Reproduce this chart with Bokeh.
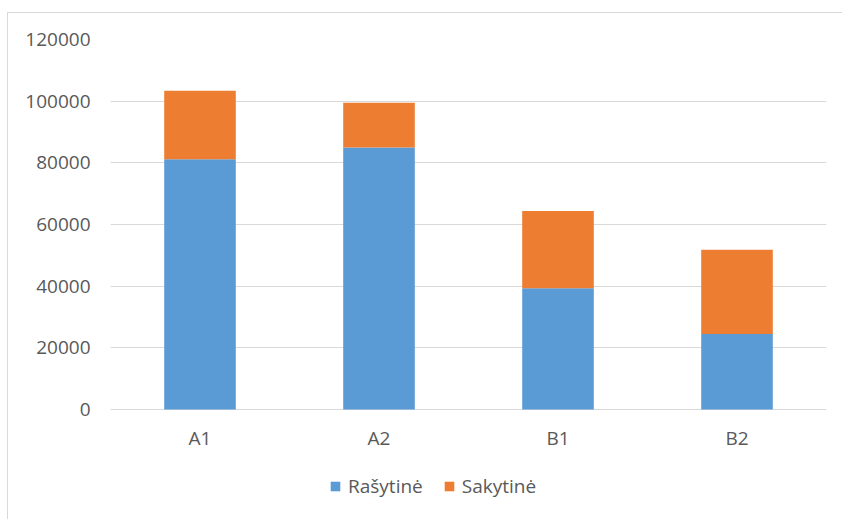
from bokeh.plotting import figure
from bokeh.models import ColumnDataSource, Range1d, FactorRange, Legend, LegendItem, NumeralTickFormatter
from bokeh.core.properties import value
from bokeh.embed import file_html
from bokeh.resources import INLINE

# Stacked totals per level
levels = ["A1", "A2", "B1", "B2"]
rasytine = [81200, 85000, 39300, 24500]
sakytine = [22200, 14500, 25100, 27300]
series = ["Rašytinė", "Sakytinė"]
colors = ["#5B9BD5", "#ED7D31"]
y_ticks = [0, 20000, 40000, 60000, 80000, 100000, 120000]

source = ColumnDataSource(data={"level": levels, "Rašytinė": rasytine, "Sakytinė": sakytine})

FONT = "Open Sans"
FONT_SIZE = "19px"
TEXT = "#595959"
GRID = "#d9d9d9"

# Layout in pixels: the value axis spans Y_MAX over AXIS_PX pixels, and the
# frame continues below zero to leave room for category labels and the legend.
WIDTH, HEIGHT = 850, 515
TOP, LEFT, RIGHT = 26, 102, 32
AXIS_PX = 370
Y_MAX = 120000
frame_h = HEIGHT - TOP
y_start = -(frame_h - AXIS_PX) * Y_MAX / AXIS_PX

p = figure(
    x_range=FactorRange(*levels, range_padding=0),
    y_range=Range1d(y_start, Y_MAX),
    width=WIDTH, height=HEIGHT,
    output_backend="svg", toolbar_location=None,
    min_border_left=LEFT, min_border_right=RIGHT,
    min_border_top=TOP, min_border_bottom=0,
    margin=(12, 0, 0, 7),
    styles={"border": "1px solid #d9d9d9"},
    x_axis_location=None,
)

renderers = p.vbar_stack(series, x="level", width=0.4, color=colors,
                         line_color=None, source=source)

# Category labels under the zero line
p.text(x="level", y=0, text="level", source=source,
       text_font=value(FONT), text_font_size=FONT_SIZE, text_color=TEXT,
       text_align="center", text_baseline="middle", y_offset=28)

p.outline_line_color = None
p.xgrid.grid_line_color = None
p.ygrid.grid_line_color = GRID
p.ygrid.grid_line_width = 1
p.ygrid.ticker = y_ticks

p.yaxis.ticker = y_ticks
p.yaxis.formatter = NumeralTickFormatter(format="0")
p.yaxis.axis_line_color = None
p.yaxis.major_tick_line_color = None
p.yaxis.minor_tick_line_color = None
p.yaxis.major_label_standoff = 14
p.yaxis.major_label_text_font = FONT
p.yaxis.major_label_text_font_size = FONT_SIZE
p.yaxis.major_label_text_color = TEXT

legend = Legend(
    items=[LegendItem(label=s, renderers=[r]) for s, r in zip(series, renderers)],
    orientation="horizontal",
    location=(219, 29),
    padding=0, margin=0, spacing=20,
    glyph_width=12, glyph_height=12, label_standoff=7, label_height=20,
    label_text_font=FONT, label_text_font_size=FONT_SIZE, label_text_color=TEXT,
    border_line_color=None, background_fill_alpha=0,
)
p.add_layout(legend, "center")

open("out.html", "w").write(file_html(p, INLINE))
